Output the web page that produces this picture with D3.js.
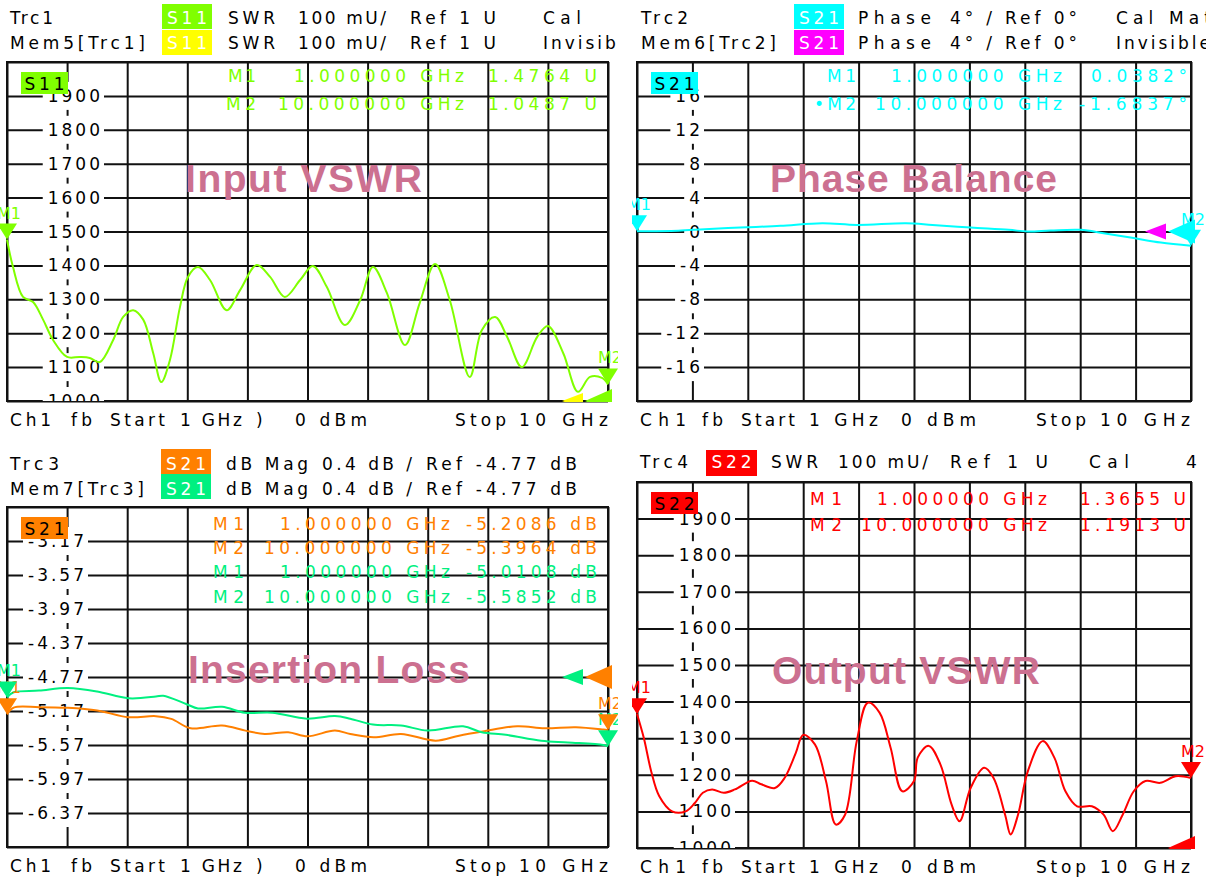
<!DOCTYPE html>
<html><head><meta charset="utf-8">
<script src="https://cdn.jsdelivr.net/npm/d3@7/dist/d3.min.js"></script>
<style>
body{margin:0;background:#fff;overflow:hidden;}
svg{display:block;font-family:"DejaVu Sans","Liberation Sans",Arial,sans-serif;}
.ttl{font-family:"Liberation Sans",Arial,sans-serif;}
</style></head><body>
<svg id="c" width="1206" height="879"></svg>
<script>
// ================= DATA =================
const freqDomain = [1, 10];            // GHz, Start / Stop
const freqDivisions = 10;

// Trc1  S11 SWR (mU)
const s11Freq = [1.00,1.09,1.24,1.39,1.54,1.69,1.90,2.09,2.24,2.39,2.59,2.74,2.89,3.04,3.19,3.31,3.44,3.59,3.71,3.86,4.04,4.29,4.49,4.74,4.94,5.16,5.39,5.58,5.79,6.06,6.29,6.48,6.69,6.96,7.18,7.41,7.63,7.93,8.11,8.31,8.49,8.71,8.94,9.10,9.33,9.55,9.73,9.91,10.00];
const s11Swr  = [1476,1395,1307,1292,1240,1180,1130,1130,1127,1115,1180,1248,1268,1240,1141,1056,1121,1277,1366,1395,1357,1268,1327,1401,1366,1307,1357,1398,1336,1224,1298,1395,1318,1165,1289,1404,1298,1071,1209,1248,1189,1100,1189,1221,1141,1027,1071,1068,1049];

// Trc2  S21 phase (deg)
const phaseFreq = [1.00,1.67,2.10,2.78,3.33,4.01,4.57,5.37,5.80,6.42,7.04,7.35,7.72,8.21,8.58,9.07,9.51,10.00];
const phaseDeg  = [0.04,0.10,0.27,0.50,0.67,0.98,0.78,0.98,0.78,0.47,0.20,0.00,0.12,0.20,-0.20,-0.78,-1.30,-1.68];

// Trc3  S21 dB Mag  and  Mem7[Trc3]
const ilFreq = [1.00,1.10,1.48,1.91,2.35,2.82,3.23,3.46,3.75,4.22,4.57,4.86,5.21,5.50,5.91,6.14,6.49,6.90,7.42,7.77,8.12,8.64,9.05,9.52,9.93,10.00];
const ilS21  = [-5.21,-5.13,-5.125,-5.133,-5.164,-5.243,-5.231,-5.263,-5.373,-5.341,-5.401,-5.44,-5.42,-5.468,-5.40,-5.44,-5.479,-5.44,-5.519,-5.46,-5.412,-5.349,-5.373,-5.361,-5.389,-5.396];
const ilMemFreq = [1.00,1.10,1.48,1.91,2.35,2.82,3.23,3.34,3.69,3.86,4.22,4.56,4.97,5.49,5.91,6.14,6.48,6.90,7.30,7.83,8.11,8.47,9.00,9.40,9.93,10.00];
const ilMem     = [-5.01,-4.95,-4.93,-4.90,-4.94,-5.02,-5.00,-4.99,-5.09,-5.14,-5.12,-5.19,-5.19,-5.26,-5.23,-5.26,-5.33,-5.34,-5.40,-5.35,-5.42,-5.45,-5.52,-5.54,-5.57,-5.585];

// Trc4  S22 SWR (mU)
const s22Freq = [1.00,1.11,1.23,1.36,1.57,1.79,1.94,2.07,2.22,2.41,2.59,2.87,3.02,3.24,3.40,3.58,3.70,3.89,4.07,4.23,4.38,4.57,4.75,4.94,5.12,5.31,5.50,5.56,5.74,5.93,6.11,6.24,6.42,6.64,6.79,6.98,7.07,7.19,7.35,7.59,7.78,7.96,8.15,8.39,8.58,8.73,8.89,9.07,9.26,9.50,9.75,10.00];
const s22Swr  = [1366,1301,1210,1142,1100,1100,1123,1151,1160,1151,1160,1184,1174,1164,1192,1260,1309,1283,1183,1064,1091,1292,1397,1370,1274,1155,1183,1247,1279,1228,1119,1073,1164,1219,1192,1091,1037,1091,1210,1292,1247,1155,1114,1114,1091,1046,1091,1155,1183,1178,1196,1191];

// Tick values / labels
const swrTicks = [1000,1100,1200,1300,1400,1500,1600,1700,1800,1900];
const swrTickLabels = ["1000","1100","1200","1300","1400","1500","1600","1700","1800","1900"];
const phaseTicks = [16,12,8,4,0,-4,-8,-12,-16];
const phaseTickLabels = ["16","12","8","4","0","-4","-8","-12","-16"];
const ilTicks = [-3.17,-3.57,-3.97,-4.37,-4.77,-5.17,-5.57,-5.97,-6.37];
const ilTickLabels = ["-3.17","-3.57","-3.97","-4.37","-4.77","-5.17","-5.57","-5.97","-6.37"];

// Marker values
const s11Markers = [["M1",1,1476.4,"1.000000 GHz","1.4764 U"],["M2",10,1048.7,"10.000000 GHz","1.0487 U"]];
const phaseMarkers = [["M1",1,0.0382,"1.000000 GHz","0.0382°"],["M2",10,-1.6837,"10.000000 GHz","-1.6837°"]];
const ilMarkers = [["M1",1,-5.2086,"1.000000 GHz","-5.2086 dB"],["M2",10,-5.3964,"10.000000 GHz","-5.3964 dB"]];
const ilMemMarkers = [["M1",1,-5.0108,"1.000000 GHz","-5.0108 dB"],["M2",10,-5.5852,"10.000000 GHz","-5.5852 dB"]];
const s22Markers = [["M1",1,1365.5,"1.000000 GHz","1.3655 U"],["M2",10,1191.3,"10.000000 GHz","1.1913 U"]];

// ================= STYLE / LAYOUT =================
const C = { s11:"#80ff00", mem5:"#ffff00", cyan:"#00ffff", mag:"#ff00ff",
            orange:"#ff8000", mem7:"#00f080", red:"#ff0000", title:"#cc7090" };

const svg = d3.select("#c");
const defs = svg.append("defs");

function txt(g, s, x, y, o = {}) {
  const fill = o.fill || "#000";
  const t = g.append("text").attr("x", x).attr("y", y).text(s)
    .attr("font-size", o.size || 17).attr("fill", fill)
    .attr("text-anchor", o.anchor || "start");
  if (o.w) t.attr("textLength", o.w).attr("lengthAdjust", "spacing");
  if (o.weight) t.attr("font-weight", o.weight).attr("class", "ttl");
  if (o.ls) t.attr("letter-spacing", o.ls);
  return t;
}

const footLeft = [["Ch1",10,41],["fb",71,21],["Start",110,55],["1 GHz",180,62],[")",256,5],["0 dBm",295,72],["Stop",455,51],["10 GHz",519,89]];
const footRight = [["Ch1",640,46],["fb",702,21],["Start",741,54],["1 GHz",809,69],["0 dBm",901,75],["Stop",1036,50],["10 GHz",1100,90]];

const panels = [
  { l:7, r:608, t:62, b:401, clip:[0,618], yDomain:[1000,2000], ticks:swrTicks, labels:swrTickLabels, labelRight:100,
    traces:[{f:s11Freq, v:s11Swr, c:C.s11}],
    refs:[{c:C.mem5, kind:"mem", v:1000},{c:C.s11, kind:"main", v:1000}],
    markers:[{m:s11Markers, c:C.s11}],
    title:["Input VSWR",185,192,237], badge:["S11",C.s11],
    header:[
      {y:24, items:[["Trc1",10,43]], badge:[162,212,4,29,"S11",C.s11], rest:[["SWR",228,47],["100 mU/",298,88],["Ref 1 U",410,86],["Cal",543,38]]},
      {y:49, items:[["Mem5[Trc1]",10,135]], badge:[162,212,30,55,"S11",C.mem5], rest:[["SWR",228,47],["100 mU/",298,88],["Ref 1 U",410,86],["Invisible",543,94]]}],
    readRows:[82,110], readCols:{mEnd:256, fEnd:464, vEnd:597, mW:[28,30], fW:[170,186], vW:109, bullet:false},
    foot:footLeft },
  { l:637, r:1191, t:62, b:401, clip:[632,1206], yDomain:[-20,20], ticks:phaseTicks, labels:phaseTickLabels, labelRight:700,
    traces:[{f:phaseFreq, v:phaseDeg, c:C.cyan}],
    refs:[{c:C.mag, kind:"mem", v:0},{c:C.cyan, kind:"main", v:0}],
    markers:[{m:phaseMarkers, c:C.cyan}],
    title:["Phase Balance",770,192,287], badge:["S21",C.cyan],
    header:[
      {y:24, items:[["Trc2",641,47]], badge:[794,844,4,29,"S21",C.cyan], rest:[["Phase",858,73],["4° /",950,42],["Ref 0°",1005,72],["Cal Mat",1116,95]]},
      {y:49, items:[["Mem6[Trc2]",641,135]], badge:[794,844,30,55,"S21",C.mag], rest:[["Phase",858,73],["4° /",950,42],["Ref 0°",1005,72],["Invisible",1116,94]]}],
    readRows:[82,110], readCols:{mEnd:856, fEnd:1062, vEnd:1187, mW:[29,42], fW:[171,187], vW:[96,108], bullet:true},
    foot:footRight },
  { l:7, r:608, t:507, b:847, clip:[0,618], yDomain:[-6.77,-2.77], ticks:ilTicks, labels:ilTickLabels, labelRight:84,
    traces:[{f:ilFreq, v:ilS21, c:C.orange},{f:ilMemFreq, v:ilMem, c:C.mem7}],
    refs:[{c:C.mem7, kind:"mem", v:-4.77},{c:C.orange, kind:"main", v:-4.77}],
    markers:[{m:ilMarkers, c:C.orange},{m:ilMemMarkers, c:C.mem7}],
    title:["Insertion Loss",188,683,282], badge:["S21",C.orange],
    header:[
      {y:470, items:[["Trc3",10,49]], badge:[161,211,449,474,"S21",C.orange], rest:[["dB Mag",226,82],["0.4 dB /",322,90],["Ref -4.77 dB",426,151]]},
      {y:495, items:[["Mem7[Trc3]",10,134]], badge:[161,211,474,499,"S21",C.mem7], rest:[["dB Mag",226,82],["0.4 dB /",322,90],["Ref -4.77 dB",426,151]]}],
    readRows:[530,554,578,603], readCols:{mEnd:244, fEnd:450, vEnd:597, mW:[31,31], fW:[170,186], vW:131, bullet:false},
    foot:footLeft },
  { l:637, r:1191, t:482, b:848, clip:[632,1206], yDomain:[1000,2000], ticks:swrTicks, labels:swrTickLabels, labelRight:731,
    traces:[{f:s22Freq, v:s22Swr, c:C.red}],
    refs:[{c:C.red, kind:"main", v:1000}],
    markers:[{m:s22Markers, c:C.red}],
    title:["Output VSWR",772,684,268], badge:["S22",C.red],
    header:[
      {y:468, items:[["Trc4",640,48]], badge:[706,757,450,476,"S22",C.red], rest:[["SWR",771,47],["100 mU/",838,90],["Ref 1 U",950,98],["Cal",1089,40],["4",1186,11]]}],
    readRows:[505,531], readCols:{mEnd:842, fEnd:1047, vEnd:1186, mW:[32,32], fW:[170,186], vW:106, bullet:false},
    foot:footRight }
];

panels.forEach((p, pi) => {
  const x = d3.scaleLinear().domain(freqDomain).range([p.l, p.r]);
  const y = d3.scaleLinear().domain(p.yDomain).range([p.b, p.t]);
  const cid = "clipP" + pi, cboxid = "clipB" + pi, crid = "clipR" + pi;
  defs.append("clipPath").attr("id", cid).append("rect")
    .attr("x", p.clip[0]).attr("y", p.t - 70).attr("width", p.clip[1] - p.clip[0]).attr("height", p.b - p.t + 110);
  defs.append("clipPath").attr("id", cboxid).append("rect")
    .attr("x", p.clip[0]).attr("y", p.t).attr("width", p.clip[1] - p.clip[0]).attr("height", p.b - p.t);
  defs.append("clipPath").attr("id", crid).append("rect")
    .attr("x", p.clip[0]).attr("y", p.t).attr("width", p.clip[1] - p.clip[0]).attr("height", p.b - p.t + 1);
  const g = svg.append("g").attr("clip-path", `url(#${cid})`);

  // header
  p.header.forEach(h => {
    h.items.forEach(it => txt(g, it[0], it[1], h.y, {w: it[2]}));
    const [bx0, bx1, by0, by1, bt, bc] = h.badge;
    g.append("rect").attr("x", bx0).attr("y", by0).attr("width", bx1 - bx0).attr("height", by1 - by0).attr("fill", bc);
    txt(g, bt, (bx0 + bx1) / 2, h.y, {anchor: "middle", fill: "#fff", w: 40});
    h.rest.forEach(it => txt(g, it[0], it[1], h.y, {w: it[2]}));
  });

  // grid via axes
  const xTicks = d3.range(0, freqDivisions + 1).map(i => freqDomain[0] + i * (freqDomain[1] - freqDomain[0]) / freqDivisions);
  const yTicks = d3.range(0, 11).map(i => p.yDomain[0] + i * (p.yDomain[1] - p.yDomain[0]) / 10);
  const gx = g.append("g").attr("transform", `translate(0,${p.b})`)
    .call(d3.axisBottom(x).tickValues(xTicks).tickSize(-(p.b - p.t)).tickFormat(""));
  const gy = g.append("g").attr("transform", `translate(${p.l},0)`)
    .call(d3.axisLeft(y).tickValues(yTicks).tickSize(-(p.r - p.l)).tickFormat(""));
  [gx, gy].forEach(a => { a.select(".domain").remove(); a.selectAll("line").attr("stroke", "#111").attr("stroke-width", 2); });
  g.append("rect").attr("x", p.l).attr("y", p.t).attr("width", p.r - p.l).attr("height", p.b - p.t)
    .attr("fill", "none").attr("stroke", "#111").attr("stroke-width", 2);

  // tick labels with white backgrounds
  const gl = g.append("g").attr("clip-path", `url(#${cboxid})`);
  p.ticks.forEach((v, i) => {
    const gg = gl.append("g");
    const t = txt(gg, p.labels[i], p.labelRight + 3, y(v), {anchor: "end", ls: "3px"})
      .attr("dominant-baseline", "central");
    const bb = t.node().getBBox();
    gg.insert("rect", "text").attr("x", bb.x - 5).attr("y", y(v) - 14)
      .attr("width", bb.width - 3 + 9).attr("height", 28).attr("fill", "#fff");
  });

  // in-plot badge
  g.append("rect").attr("x", p.l + 14).attr("y", p.t + 10).attr("width", 47).attr("height", 22).attr("fill", p.badge[1]);
  txt(g, p.badge[0], p.l + 14 + 23.5, p.t + 28, {anchor: "middle", w: 40});

  // title
  txt(g, p.title[0], p.title[1], p.title[2], {w: p.title[3], size: 39, weight: "bold", fill: C.title});

  // readouts
  const rc = p.readCols;
  let row = 0;
  p.markers.forEach(ms => {
    ms.m.forEach((mk, k) => {
      const yy = p.readRows[row++];
      const lab = (rc.bullet && k === 1) ? "•" + mk[0] : mk[0];
      const o = {anchor: "end", fill: ms.c};
      txt(g, lab, rc.mEnd, yy, Object.assign({w: rc.mW[k]}, o));
      txt(g, mk[3], rc.fEnd, yy, Object.assign({w: rc.fW[k]}, o));
      txt(g, mk[4], rc.vEnd, yy, Object.assign({w: Array.isArray(rc.vW) ? rc.vW[k] : rc.vW}, o));
    });
  });

  // traces
  const line = d3.line().x(d => x(d[0])).y(d => y(d[1])).curve(d3.curveCatmullRom.alpha(0.5));
  const gt = g.append("g").attr("clip-path", `url(#${cboxid})`);
  p.traces.forEach(tr => {
    gt.append("path").datum(tr.f.map((f, i) => [f, tr.v[i]])).attr("d", line)
      .attr("fill", "none").attr("stroke", tr.c).attr("stroke-width", 2);
  });

  // reference level triangles (clipped at box bottom)
  const grc = g.append("g").attr("clip-path", `url(#${crid})`);
  p.refs.forEach(rf => {
    const yy = y(rf.v);
    const pts = rf.kind === "main"
      ? [[p.r - 23, yy], [p.r + 4, yy - 12], [p.r + 4, yy + 12]]
      : [[p.r - 46, yy], [p.r - 25, yy - 8], [p.r - 25, yy + 8]];
    grc.append("path").attr("d", d3.line()(pts) + "Z").attr("fill", rf.c);
  });

  // marker labels first, then triangles on top
  const mk = [];
  p.markers.forEach(ms => ms.m.forEach(m => mk.push({x: x(m[1]), y: y(m[2]), name: m[0], c: ms.c})));
  mk.forEach(m => txt(g, m.name, m.x + 2, m.y - 21, {anchor: "middle", fill: m.c, size: 16, w: 24}));
  mk.forEach(m => g.append("path").attr("d", d3.line()([[m.x, m.y], [m.x - 10, m.y - 16], [m.x + 10, m.y - 16]]) + "Z").attr("fill", m.c));

  // footer
  p.foot.forEach(it => txt(g, it[0], it[1], p.b + 25, {w: it[2]}));
});
</script>
</body></html>
